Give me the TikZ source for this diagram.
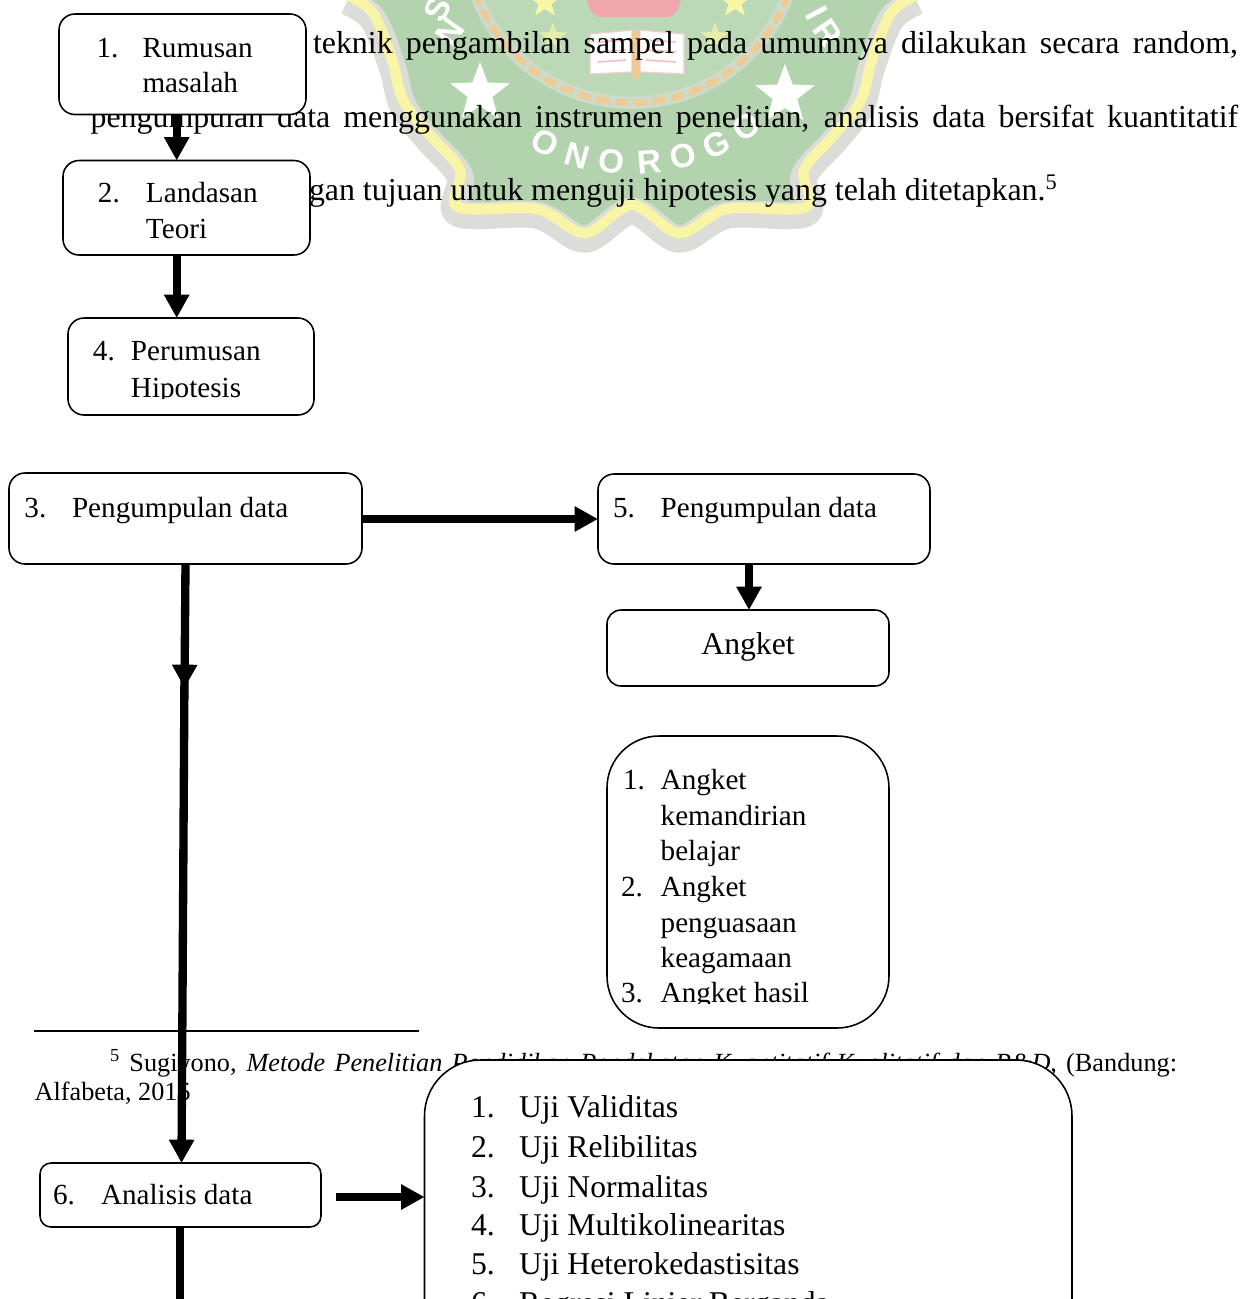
\documentclass[tikz,border=0pt]{standalone}
\usepackage{fontspec}
\setmainfont{Liberation Serif}
\newfontfamily\sealfont{Liberation Sans}
\usetikzlibrary{arrows.meta,shapes.geometric}
\definecolor{sealgreen}{HTML}{B2D3AD}
\definecolor{sealinner}{HTML}{BBD9B6}
\definecolor{sealyellow}{HTML}{F9F5A6}
\definecolor{sealgrey}{HTML}{DCDDD8}
\definecolor{sealgold}{HTML}{EFCB94}
\definecolor{sealpink}{HTML}{EFA6AC}
\tikzset{
  px/.style={x=0.48pt,y=-0.48pt},
  flowbox/.style={draw=black,fill=white,line width=0.75pt,inner sep=0pt,outer sep=0pt},
  lbl/.style={anchor=base west,inner sep=0pt,outer sep=0pt,font=\fontsize{14}{16}\selectfont},
  lblbig/.style={lbl,font=\fontsize{15.2}{18}\selectfont},
  body/.style={anchor=base west,inner sep=0pt,outer sep=0pt,font=\fontsize{15.3}{18}\selectfont},
  foot/.style={anchor=base west,inner sep=0pt,outer sep=0pt,font=\fontsize{12.6}{15}\selectfont},
  arr/.style={line width=4pt,-{Triangle[length=11.2pt,width=11.5pt,sep=0pt]}},
  shaft/.style={line width=4pt},
  sealstar/.style={star,star points=5,star point ratio=2.4,inner sep=0pt,outer sep=0pt,draw=none},
  sealletter/.style={inner sep=0pt,outer sep=0pt,text=white,font=\sealfont\bfseries\fontsize{16}{16}\selectfont}
}
\newcommand{\flowbox}[6]{% name, x1, y1, x2, y2, radius
  \pgfmathsetmacro{\bxc}{(#2+#4)/2}\pgfmathsetmacro{\byc}{(#3+#5)/2}
  \pgfmathsetmacro{\bw}{(#4-#2)*0.48}\pgfmathsetmacro{\bh}{(#5-#3)*0.48}\pgfmathsetmacro{\br}{#6*0.48}
  \node[flowbox,minimum width=\bw pt,minimum height=\bh pt,rounded corners=\br pt] (#1) at (\bxc,\byc) {};
}
\def\sealoutline{plot[smooth,tension=0.55] coordinates {(347,-5) (373,13) (392,60) (403,100) (428,133) (460,170) (458,207) (537,209) (585,233) (632,205) (679,233) (727,209) (806,207) (804,170) (836,133) (861,100) (872,60) (891,13) (917,-5)}}
\begin{document}
\begin{tikzpicture}[px]
\path[use as bounding box,clip] (0,0) rectangle (1241,1299);
\fill[white] (0,0) rectangle (1241,1299);

% watermark seal
\fill[sealgreen] \sealoutline -- (917,-10) -- (347,-10) -- cycle;
\draw[sealgrey,line width=13pt,yshift=-3pt,line join=round] \sealoutline;
\draw[sealyellow,line width=5pt,line join=round] \sealoutline;
\fill[sealinner] (632,-64) circle[radius=80pt];
\draw[sealgrey!70!sealgreen,line width=6pt] (632,-64) circle[radius=80pt];
\draw[sealgold,line width=3pt,dash pattern=on 6pt off 3pt] (632,-64) circle[radius=80pt];
\fill[sealpink,rounded corners=4pt] (585,-5) -- (683,-5) -- (675,17) -- (593,17) -- cycle;
\filldraw[fill=white,draw=sealpink!60,line width=0.6pt] (590,34) -- (632,30) -- (632,72) -- (590,74) -- cycle;
\filldraw[fill=white,draw=sealpink!60,line width=0.6pt] (684,34) -- (640,30) -- (640,72) -- (684,74) -- cycle;
\fill[sealgold] (632,32) rectangle (640,78);
\foreach \yy in {42,52,62}{
  \draw[sealpink!70,line width=0.8pt] (598,\yy) -- (626,\yy-2);
  \draw[sealpink!70,line width=0.8pt] (676,\yy) -- (646,\yy-2);
}
\node[sealstar,fill=white,minimum size=30pt] (wstarL) at (480,93) {};
\node[sealstar,fill=white,minimum size=30pt] (wstarR) at (785,95) {};
\node[sealstar,fill=sealyellow,minimum size=16pt] (ystarA) at (545,2) {};
\node[sealstar,fill=sealyellow,minimum size=16pt] (ystarB) at (735,2) {};
\node[sealstar,fill=sealyellow!70!sealinner,minimum size=14pt] (ystarC) at (553,37) {};
\node[sealstar,fill=sealyellow!70!sealinner,minimum size=14pt] (ystarD) at (715,37) {};
\foreach \ch/\ang [count=\i] in {O/-26,N/-16,O/-6,R/5,O/15,G/25,O/35}{
  \node[sealletter,rotate=\ang] (wl\i) at ({632+199*sin(\ang)},{-36+199*cos(\ang)}) {\ch};
}
\node[sealletter,rotate=62] (wlS) at (438,9) {S};
\node[sealletter,rotate=55] (wlN) at (450,32) {N};
\node[sealletter,rotate=-62] (wlI) at (817,13) {I};
\node[sealletter,rotate=-55] (wlR) at (828,33) {R};

% body text
\node[body] (t1) at (313,53.7) {\makebox[444pt][s]{teknik pengambilan sampel pada umumnya dilakukan secara random,}};
\node[body] (t2) at (90.6,127.5) {\makebox[550.8pt][s]{pengumpulan data menggunakan instrumen penelitian, analisis data bersifat kuantitatif}};
\node[body] (t3) at (309,200.3) {gan tujuan untuk menguji hipotesis yang telah ditetapkan.\textsuperscript{5}};

% footnote
\draw[black,line width=0.8pt] (34,1030.7) -- (419,1030.7);
\node[foot] (f1) at (110,1071) {\makebox[512.2pt][s]{\textsuperscript{5} Sugiyono, \textit{Metode Penelitian Pendidikan Pendekatan Kuantitatif Kualitatif dan R\&D}, (Bandung:}};
\node[foot] (f2) at (34.7,1100.7) {Alfabeta, 2015};

% boxes
\flowbox{b1}{59}{14}{306}{114.5}{16}
\flowbox{b2}{63}{160.5}{310}{255}{16}
\flowbox{b4}{68}{318}{314}{415}{16}
\flowbox{b3}{9}{473}{362}{564}{16}
\flowbox{b5}{598}{474}{930}{564}{16}
\flowbox{b7}{607}{610}{889}{686}{14}
\flowbox{b8}{607}{736}{889}{1028}{52}
\flowbox{b6}{40}{1163}{321}{1227}{11}
\flowbox{b9}{424.5}{1060}{1072}{1420}{56}

% connectors
\coordinate (xa) at (176.7,0);
\coordinate (xb) at (185.5,0);
\coordinate (xc) at (184.5,0);
\coordinate (xd) at (181.5,0);
\coordinate (xe) at (180,0);
\coordinate (xf) at (749,0);
\coordinate (xg) at (336,0);
\coordinate (ya) at (0,519);
\coordinate (yb) at (0,1197);
\coordinate (ymid) at (0,688);
\coordinate (ymidb) at (0,672);
\coordinate (yend) at (0,1320);
\draw[arr] (xa |- b1.south) -- (xa |- b2.north);
\draw[arr] (xa |- b2.south) -- (xa |- b4.north);
\draw[arr] (b3.east |- ya) -- (b5.west |- ya);
\draw[arr] (xf |- b5.south) -- (xf |- b7.north);
\draw[arr] (xb |- b3.south) -- (xc |- ymid);
\draw[arr] (xc |- ymidb) -- (xd |- b6.north);
\draw[arr] (xg |- yb) -- (b9.west |- yb);
\draw[shaft] (xe |- b6.south) -- (xe |- yend);

% labels
\node[lbl] (l1n) at (96.5,57.5) {1.};
\node[lbl] (l1a) at (142.5,57.5) {Rumusan};
\node[lbl] (l1b) at (142.5,92.7) {masalah};
\node[lbl] (l2n) at (98,202.7) {2.};
\node[lbl] (l2a) at (146,202.7) {Landasan};
\node[lbl] (l2b) at (146,238) {Teori};
\node[lbl] (l4n) at (93,360) {4.};
\node[lbl] (l4a) at (131,360) {Perumusan};
\begin{scope}
\clip (120,370) rectangle (300,398);
\node[lbl] (l4b) at (131,397) {Hipotesis};
\end{scope}
\node[lbl] (l3n) at (24.5,517) {3.};
\node[lbl] (l3a) at (72,517) {Pengumpulan data};
\node[lbl] (l5n) at (613,517) {5.};
\node[lbl] (l5a) at (660.7,517) {Pengumpulan data};
\node[lblbig,anchor=base] (lang) at (748,654) {Angket};
\node[lbl] (m1n) at (623,789) {1.};
\node[lbl] (m1a) at (660.7,789) {Angket};
\node[lbl] (m1b) at (660.7,825) {kemandirian};
\node[lbl] (m1c) at (660.7,860) {belajar};
\node[lbl] (m2n) at (621,896) {2.};
\node[lbl] (m2a) at (660.7,896) {Angket};
\node[lbl] (m2b) at (660.7,932) {penguasaan};
\node[lbl] (m2c) at (660.7,967) {keagamaan};
\begin{scope}
\clip (610,975) rectangle (860,1003.5);
\node[lbl] (m3n) at (621,1002.6) {3.};
\node[lbl] (m3a) at (660.7,1002.6) {Angket hasil};
\end{scope}
\node[lbl] (l6n) at (53,1204) {6.};
\node[lbl] (l6a) at (101,1204) {Analisis data};
\foreach \n/\t/\yy in {1/Uji Validitas/1117,2/Uji Relibilitas/1157,3/Uji Normalitas/1197,4/Uji Multikolinearitas/1235,5/Uji Heterokedastisitas/1274,6/Regresi Linier Berganda/1313}{
  \node[lblbig] (u\n n) at (471,\yy) {\n.};
  \node[lblbig] (u\n a) at (519,\yy) {\t};
}
\end{tikzpicture}
\end{document}
